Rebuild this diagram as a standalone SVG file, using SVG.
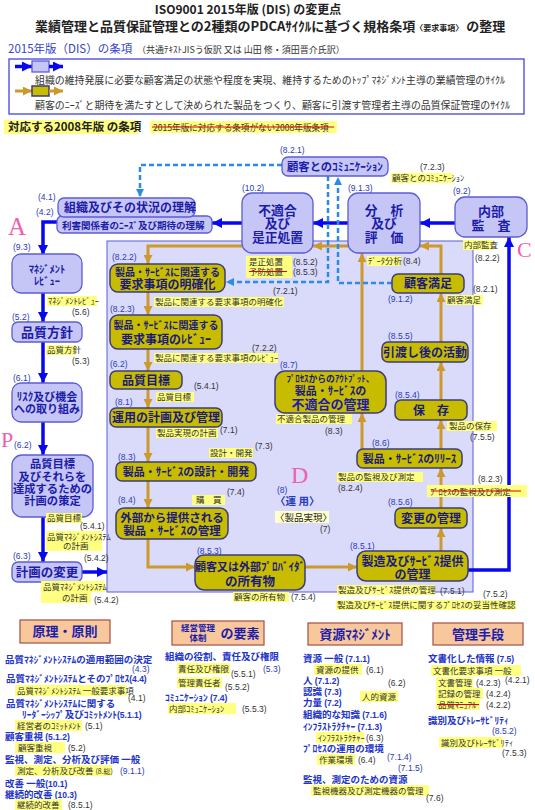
<svg xmlns="http://www.w3.org/2000/svg" width="535" height="810" viewBox="0 0 535 810">
<defs>
<style>
text{font-family:"Noto Sans CJK JP","Liberation Sans",sans-serif}
.n{font-family:"Liberation Sans","Noto Sans CJK JP",sans-serif;font-size:8.5px}
.nb{fill:#2a3ab8}
.ng{fill:#333}
.lv{fill:#c6c6f6;stroke:#5c5cd6;stroke-width:1.3}
.ol{fill:#c8bc00;stroke:#3c3c78;stroke-width:1.5}
.bt{font-weight:bold;fill:#1c1ca8;text-anchor:middle}
.ot{font-weight:bold;fill:#1a1a7a;text-anchor:middle}
.y{fill:#ffff80}
.l{font-size:8.5px;fill:#333}
.bl{stroke:#0808ee;stroke-width:3.5;fill:none}
.gd{stroke:#cc9a2c;stroke-width:3;fill:none}
.ds{stroke:#2a8ce6;stroke-width:2.5;stroke-dasharray:5 3;fill:none}
.rs{stroke:#e00000;stroke-width:1.2}
.pk{font-family:"Liberation Serif",serif;fill:#f060b0}
.hd{fill:#f8c89c;stroke:#a85a50;stroke-width:1.3}
.lo{font-weight:bold;fill:#2233c8;font-size:9.5px}
</style>
<marker id="ab" viewBox="0 0 10 10" refX="10" refY="5" markerWidth="10" markerHeight="10" markerUnits="userSpaceOnUse" orient="auto"><path d="M0,0L10,5L0,10z" fill="#0808ee"/></marker>
<marker id="ag" viewBox="0 0 10 10" refX="10" refY="5" markerWidth="9" markerHeight="9" markerUnits="userSpaceOnUse" orient="auto"><path d="M0,0L10,5L0,10z" fill="#cc9a2c"/></marker>
<marker id="ad" viewBox="0 0 10 10" refX="10" refY="5" markerWidth="8" markerHeight="8" markerUnits="userSpaceOnUse" orient="auto"><path d="M0,0L10,5L0,10z" fill="#2a8ce6"/></marker>
</defs>
<rect width="535" height="810" fill="#fff"/>

<g id="header">
<text x="248" y="14" font-size="12" font-weight="bold" fill="#222" text-anchor="middle">ISO9001 2015年版 (DIS) の変更点</text>
<text x="35" y="31" font-size="13" font-weight="bold" fill="#222">業績管理と品質保証管理との2種類のPDCAｻｲｸﾙに基づく規格条項<tspan font-size="8">〈要求事項〉</tspan> の整理</text>
<text x="8" y="53" font-size="11.5" fill="#3344cc">2015年版（DIS）の条項</text>
<text x="137" y="53" font-size="9" fill="#333">（共通ﾃｷｽﾄJISう仮訳 又は 山田 修・須田晋介氏訳）</text>
</g>

<g id="legend">
<rect x="9" y="59" width="515" height="55" fill="#fff" stroke="#4444dd" stroke-width="1.3"/>
<line x1="15" y1="66.5" x2="32" y2="66.5" class="bl" stroke-width="3" marker-end="url(#ab)"/>
<rect x="32" y="61" width="17" height="11" class="lv"/>
<line x1="49" y1="66.5" x2="63" y2="66.5" class="bl" stroke-width="3" marker-end="url(#ab)"/>
<text x="35" y="84" font-size="10" fill="#333" textLength="470" lengthAdjust="spacingAndGlyphs">組織の維持発展に必要な顧客満足の状態や程度を実現、維持するためのﾄｯﾌﾟﾏﾈｼﾞﾒﾝﾄ主導の業績管理のｻｲｸﾙ</text>
<line x1="15" y1="91" x2="32" y2="91" class="gd" marker-end="url(#ag)"/>
<rect x="32" y="86" width="17" height="10" class="ol"/>
<line x1="49" y1="91" x2="63" y2="91" class="gd" marker-end="url(#ag)"/>
<text x="35" y="109" font-size="10" fill="#333" textLength="475" lengthAdjust="spacingAndGlyphs">顧客のﾆｰｽﾞと期待を満たすとして決められた製品をつくり、顧客に引渡す管理者主導の品質保証管理のｻｲｸﾙ</text>
</g>

<g id="legend2008">
<rect x="4" y="120" width="134" height="14" class="y"/>
<text x="8" y="131" font-size="11.5" font-weight="bold" fill="#222">対応する2008年版 の条項</text>
<rect x="150" y="121" width="187" height="12" class="y"/>
<text x="153" y="130.5" font-size="8.6" fill="#333">2015年版に対応する条項がない2008年版条項</text>
<line x1="152" y1="127" x2="334" y2="127" class="rs"/>
</g>

<rect id="panel" x="107" y="241" width="366" height="351" fill="#dadafb" stroke="#5c5cdc" stroke-width="1"/>

<g id="connectors">
<path d="M58,222H43V255" class="bl" marker-end="url(#ab)"/>
<path d="M43,293V322" class="bl" marker-end="url(#ab)"/>
<path d="M43,342V383" class="bl" marker-end="url(#ab)"/>
<path d="M43,422V455" class="bl" marker-end="url(#ab)"/>
<path d="M43,517V562" class="bl" marker-end="url(#ab)"/>
<path d="M82,572H107" class="bl" marker-end="url(#ab)"/>
<path d="M348,223H313" class="bl" marker-end="url(#ab)"/>
<path d="M242,223H212" class="bl" marker-end="url(#ab)"/>
<path d="M455,223H420" class="bl" marker-end="url(#ab)"/>
<path d="M468,570H509V237" class="bl" marker-end="url(#ab)"/>

<path d="M348,246H313" class="gd" marker-end="url(#ag)"/>
<path d="M242,246H148V264" class="gd" marker-end="url(#ag)"/>
<path d="M148,292V315" class="gd" marker-end="url(#ag)"/>
<path d="M148,349V371" class="gd" marker-end="url(#ag)"/>
<path d="M148,389V408" class="gd" marker-end="url(#ag)"/>
<path d="M148,427V462" class="gd" marker-end="url(#ag)"/>
<path d="M148,481V508" class="gd" marker-end="url(#ag)"/>
<path d="M148,539V567H195" class="gd" marker-end="url(#ag)"/>
<path d="M305,567H357" class="gd" marker-end="url(#ag)"/>
<path d="M441,551V528" class="gd" marker-end="url(#ag)"/>
<path d="M441,508V468" class="gd" marker-end="url(#ag)"/>
<path d="M441,449V420" class="gd" marker-end="url(#ag)"/>
<path d="M441,400V362" class="gd" marker-end="url(#ag)"/>
<path d="M441,342V293" class="gd" marker-end="url(#ag)"/>
<path d="M441,274V246H420" class="gd" marker-end="url(#ag)"/>
<path d="M362,449V413" class="gd" marker-end="url(#ag)"/>
<path d="M362,371V253" class="gd" marker-end="url(#ag)"/>

<path d="M282,165H140V197" class="ds" marker-end="url(#ad)"/>
<path d="M328,176V282H226" class="ds" marker-end="url(#ad)"/>
<path d="M392,283H338V177" class="ds" marker-end="url(#ad)"/>
</g>

<g id="n-context">
<rect x="57" y="216" width="155" height="17" rx="5" class="lv"/>
<text x="62" y="229" font-size="9.5" font-weight="bold" fill="#1c1ca8">利害関係者のﾆｰｽﾞ及び期待の理解</text>
<rect x="58" y="198" width="137" height="19" rx="6" class="lv"/>
<text x="64" y="212" font-size="12" font-weight="bold" fill="#1c1ca8">組織及びその状況の理解</text>
</g>
<g id="n-comm"><rect x="282" y="157" width="106" height="19" rx="6" class="lv"/><text x="335" y="170.5" font-size="11.3" class="bt">顧客とのｺﾐｭﾆｹｰｼｮﾝ</text></g>
<g id="n-ncr"><rect x="242" y="193" width="71" height="60" rx="10" class="lv"/><text class="bt" font-size="12.8"><tspan x="277.5" y="214.5">不適合</tspan><tspan x="277.5" y="228">及び</tspan><tspan x="277.5" y="241.5">是正処置</tspan></text></g>
<g id="n-analysis"><rect x="348" y="193" width="72" height="60" rx="10" class="lv"/><text class="bt" font-size="12.8"><tspan x="384" y="214.5">分　析</tspan><tspan x="384" y="228">及び</tspan><tspan x="384" y="241.5">評　価</tspan></text></g>
<g id="n-audit"><rect x="455" y="197" width="72" height="40" rx="10" class="lv"/><text class="bt" font-size="13"><tspan x="491" y="216">内部</tspan><tspan x="491" y="230">監　査</tspan></text></g>
<g id="n-mr"><rect x="12" y="254" width="70" height="39" rx="9" class="lv"/><text class="bt" font-size="10.5"><tspan x="47" y="273">ﾏﾈｼﾞﾒﾝﾄ</tspan><tspan x="47" y="285">ﾚﾋﾞｭｰ</tspan></text></g>
<g id="n-policy"><rect x="12" y="322" width="70" height="20" rx="6" class="lv"/><text x="47" y="337" font-size="13" class="bt">品質方針</text></g>
<g id="n-risk"><rect x="12" y="383" width="70" height="39" rx="9" class="lv"/><text class="bt" font-size="11"><tspan x="47" y="401">ﾘｽｸ及び機会</tspan><tspan x="47" y="413">への取り組み</tspan></text></g>
<g id="n-objplan"><rect x="12" y="455" width="81" height="62" rx="10" class="lv"/><text class="bt" font-size="11.3"><tspan x="52.5" y="468">品質目標</tspan><tspan x="52.5" y="480.5">及びそれらを</tspan><tspan x="52.5" y="492.5">達成するための</tspan><tspan x="52.5" y="504.5">計画の策定</tspan></text></g>
<g id="n-change"><rect x="12" y="562" width="70" height="20" rx="6" class="lv"/><text x="47" y="577" font-size="12.5" class="bt">計画の変更</text></g>

<g id="n-reqdet"><rect x="110" y="264" width="115" height="28" rx="8" class="ol"/><text class="ot"><tspan x="167.5" y="276" font-size="10">製品・ｻｰﾋﾞｽに関連する</tspan><tspan x="167.5" y="289" font-size="12">要求事項の明確化</tspan></text></g>
<g id="n-reqrev"><rect x="110" y="315" width="112" height="34" rx="8" class="ol"/><text class="ot"><tspan x="166" y="329" font-size="10">製品・ｻｰﾋﾞｽに関連する</tspan><tspan x="166" y="344" font-size="12">要求事項のﾚﾋﾞｭｰ</tspan></text></g>
<g id="n-qobj"><rect x="110" y="371" width="72" height="18" rx="6" class="ol"/><text x="146" y="385" font-size="12" class="ot">品質目標</text></g>
<g id="n-opplan"><rect x="110" y="408" width="112" height="19" rx="6" class="ol"/><text x="166" y="422" font-size="12" class="ot">運用の計画及び管理</text></g>
<g id="n-design"><rect x="116" y="462" width="140" height="19" rx="6" class="ol"/><text x="186" y="476" font-size="11" class="ot">製品・ｻｰﾋﾞｽの設計・開発</text></g>
<g id="n-ext"><rect x="116" y="508" width="112" height="31" rx="8" class="ol"/><text class="ot" font-size="11.5"><tspan x="172" y="522">外部から提供される</tspan><tspan x="172" y="535">製品・ｻｰﾋﾞｽの管理</tspan></text></g>
<g id="n-custprop"><rect x="195" y="555" width="110" height="35" rx="9" class="ol"/><text class="ot"><tspan x="250" y="571" font-size="11">顧客又は外部ﾌﾟﾛﾊﾞｲﾀﾞ</tspan><tspan x="250" y="586" font-size="12.5">の所有物</tspan></text></g>
<g id="n-prod"><rect x="357" y="551" width="111" height="30" rx="9" class="ol"/><text class="ot" font-size="12"><tspan x="412.5" y="566">製造及びｻｰﾋﾞｽ提供</tspan><tspan x="412.5" y="579">の管理</tspan></text></g>
<g id="n-chg"><rect x="395" y="508" width="72" height="20" rx="6" class="ol"/><text x="431" y="522.5" font-size="12" class="ot">変更の管理</text></g>
<g id="n-release"><rect x="357" y="449" width="105" height="19" rx="6" class="ol"/><text x="409.5" y="463" font-size="11" class="ot">製品・ｻｰﾋﾞｽのﾘﾘｰｽ</text></g>
<g id="n-pres"><rect x="395" y="400" width="72" height="20" rx="6" class="ol"/><text x="431" y="414.5" font-size="12" class="ot">保　存</text></g>
<g id="n-post"><rect x="382" y="342" width="86" height="20" rx="6" class="ol"/><text x="425" y="356.5" font-size="12" class="ot">引渡し後の活動</text></g>
<g id="n-csat"><rect x="392" y="274" width="72" height="19" rx="6" class="ol"/><text x="428" y="288" font-size="12" class="ot">顧客満足</text></g>
<g id="n-nc"><rect x="275" y="371" width="111" height="42" rx="10" class="ol"/><text class="ot"><tspan x="330.5" y="382" font-size="8.8">ﾌﾟﾛｾｽからのｱｳﾄﾌﾟｯﾄ、</tspan><tspan x="330.5" y="395" font-size="11">製品・ｻｰﾋﾞｽの</tspan><tspan x="330.5" y="409" font-size="13" fill="#1c1ca8">不適合の管理</tspan></text></g>

<g id="numbers">
<text class="n nb" x="38" y="200">(4.1)</text>
<text class="n nb" x="36" y="215">(4.2)</text>
<text class="n nb" x="13" y="250">(9.3)</text>
<text class="n nb" x="12" y="320">(5.2)</text>
<text class="n nb" x="13" y="381">(6.1)</text>
<text class="n nb" x="14" y="448">(6.2)</text>
<text class="n nb" x="13" y="559">(6.3)</text>
<text class="n nb" x="112" y="260">(8.2.2)</text>
<text class="n nb" x="110" y="312">(8.2.3)</text>
<text class="n nb" x="110" y="367">(6.2)</text>
<text class="n nb" x="115" y="405">(8.1)</text>
<text class="n nb" x="118" y="460">(8.3)</text>
<text class="n nb" x="118" y="503">(8.4)</text>
<text class="n nb" x="197" y="554">(8.5.3)</text>
<text class="n nb" x="350" y="549">(8.5.1)</text>
<text class="n nb" x="388" y="505">(8.5.6)</text>
<text class="n nb" x="372" y="446">(8.6)</text>
<text class="n nb" x="395" y="398">(8.5.4)</text>
<text class="n nb" x="388" y="339">(8.5.5)</text>
<text class="n nb" x="388" y="302">(9.1.2)</text>
<text class="n nb" x="280" y="368">(8.7)</text>
<text class="n nb" x="280" y="153">(8.2.1)</text>
<text class="n nb" x="242" y="191">(10.2)</text>
<text class="n nb" x="348" y="191">(9.1.3)</text>
<text class="n nb" x="453" y="194">(9.2)</text>
</g>

<g id="labels">
<rect class="y" x="47" y="296" width="50" height="10"/><text class="l" x="48" y="304" font-size="7.8">ﾏﾈｼﾞﾒﾝﾄﾚﾋﾞｭｰ</text>
<text class="n ng" x="72" y="315">(5.6)</text>
<rect class="y" x="46" y="345" width="30" height="10"/><text class="l" x="47" y="353" font-size="7.5">品質方針</text>
<text class="n ng" x="72" y="364">(5.3)</text>
<rect class="y" x="46" y="513" width="36" height="10"/><text class="l" x="47" y="521" font-size="8">品質目標</text>
<text class="n ng" x="80" y="529">(5.4.1)</text>
<rect class="y" x="46" y="531" width="56" height="20"/><text class="l" x="47" y="540" font-size="7.5">品質ﾏﾈｼﾞﾒﾝﾄｼｽﾃﾑ</text><text class="l" x="63" y="549" font-size="7.5">の計画</text>
<text class="n ng" x="84" y="561">(5.4.2)</text>
<rect class="y" x="41" y="581" width="64" height="11"/><rect class="y" x="41" y="592" width="50" height="11"/><text class="l" x="43" y="590" font-size="7.5">品質ﾏﾈｼﾞﾒﾝﾄｼｽﾃﾑ</text><text class="l" x="62" y="601" font-size="7.5">の計画</text>
<text class="n ng" x="94" y="603">(5.4.2)</text>

<rect class="y" x="154" y="297" width="130" height="10"/><text class="l" x="155" y="305">製品に関連する要求事項の明確化</text>
<text class="n ng" x="273" y="294">(7.2.1)</text>
<rect class="y" x="154" y="353" width="124" height="10"/><text class="l" x="155" y="361">製品に関連する要求事項のﾚﾋﾞｭｰ</text>
<text class="n ng" x="252" y="351">(7.2.2)</text>
<rect class="y" x="156" y="392" width="38" height="10"/><text class="l" x="157" y="400">品質目標</text>
<text class="n ng" x="194" y="389">(5.4.1)</text>
<rect class="y" x="156" y="428" width="62" height="10"/><text class="l" x="157" y="436">製品実現の計画</text>
<text class="n ng" x="220" y="433">(7.1)</text>
<rect class="y" x="209" y="448" width="44" height="10"/><text class="l" x="210" y="456">設計・開発</text>
<text class="n ng" x="255" y="449">(7.3)</text>
<rect class="y" x="192" y="495" width="33" height="10"/><text class="l" x="196" y="503">購　買</text>
<text class="n ng" x="227" y="495">(7.4)</text>
<rect class="y" x="233" y="592" width="56" height="10"/><text class="l" x="234" y="600">顧客の所有物</text>
<text class="n ng" x="291" y="600">(7.5.4)</text>
<rect class="y" x="337" y="585" width="98" height="10"/><text class="l" x="338" y="593">製造及びｻｰﾋﾞｽ提供の管理</text>
<text class="n ng" x="440" y="594">(7.5.1)</text>
<text class="n ng" x="483" y="597">(7.5.2)</text>
<rect class="y" x="336" y="600" width="180" height="10"/><text class="l" x="337" y="608">製造及びｻｰﾋﾞｽ提供に関するﾌﾟﾛｾｽの妥当性確認</text>

<rect class="y" x="246" y="256" width="46" height="22"/>
<text class="l" x="249" y="264.5" font-size="9">是正処置</text>
<text class="l" x="249" y="275" font-size="9">予防処置</text>
<line x1="249" y1="271.5" x2="287" y2="271.5" class="rs"/>
<text class="n ng" x="293" y="264.5">(8.5.2)</text>
<text class="n ng" x="293" y="275">(8.5.3)</text>

<rect class="y" x="391" y="173" width="62" height="10"/><text class="l" x="392" y="181" font-size="7.6">顧客とのｺﾐｭﾆｹｰｼｮﾝ</text>
<text class="n ng" x="420" y="170">(7.2.3)</text>
<rect class="y" x="463" y="240" width="30" height="10"/><text class="l" x="464" y="248" font-size="7.5">内部監査</text>
<text class="n ng" x="475" y="261">(8.2.2)</text>
<rect class="y" x="367" y="256" width="34" height="10"/><text class="l" x="368" y="264" font-size="8">ﾃﾞｰﾀ分析</text>
<text class="n ng" x="403" y="264">(8.4)</text>
<text class="n ng" x="473" y="292">(8.2.1)</text>
<rect class="y" x="446" y="295" width="37" height="10"/><text class="l" x="447" y="303">顧客満足</text>
<rect class="y" x="276" y="414" width="76" height="10"/><text class="l" x="277" y="422">不適合製品の管理</text>
<text class="n ng" x="325" y="434">(8.3)</text>
<rect class="y" x="447" y="421" width="50" height="10"/><text class="l" x="449" y="429">製品の保存</text>
<text class="n ng" x="470" y="440">(7.5.5)</text>
<rect class="y" x="337" y="472" width="86" height="10"/><text class="l" x="338" y="480">製品の監視及び測定</text>
<text class="n ng" x="338" y="491">(8.2.4)</text>
<text class="n ng" x="478" y="482">(8.2.3)</text>
<rect class="y" x="427" y="485" width="100" height="12"/><text class="l" x="430" y="494.5" font-size="9.5">ﾌﾟﾛｾｽの監視及び測定</text>
<line x1="431" y1="491" x2="521" y2="491" class="rs"/>
</g>

<g id="center">
<text class="pk" x="8" y="235" font-size="25">A</text>
<text class="pk" x="1" y="447" font-size="22">P</text>
<text class="pk" x="291" y="483" font-size="24">D</text>
<text class="pk" x="517" y="257" font-size="22">C</text>
<text class="n nb" x="277" y="493">(8)</text>
<text x="275" y="505" font-size="10.5" font-weight="bold" fill="#2a3ab8">〈運 用〉</text>
<rect x="275" y="511" width="54" height="12" fill="#ffffcc"/>
<text x="275" y="520.5" font-size="9.5" fill="#222">〈製品実現〉</text>
<text class="n ng" x="320" y="532">(7)</text>
</g>

<g id="h-principle"><rect x="20" y="620" width="90" height="23" class="hd"/><text x="65" y="636" font-size="13" class="bt" fill="#2233c8">原理・原則</text></g>
<g id="h-system"><rect x="172" y="621" width="92" height="24" class="hd"/><text class="bt" font-size="8.5"><tspan x="198" y="631">経営管理</tspan><tspan x="198" y="641">体制</tspan></text><text x="240" y="638" font-size="13" class="bt">の要素</text></g>
<g id="h-resource"><rect x="308" y="623" width="94" height="22" class="hd"/><text x="355" y="638.5" font-size="13" class="bt">資源ﾏﾈｼﾞﾒﾝﾄ</text></g>
<g id="h-means"><rect x="433" y="623" width="90" height="22" class="hd"/><text x="478" y="638.5" font-size="13" class="bt">管理手段</text></g>

<g id="list1">
<text class="lo" x="5" y="663" font-size="8.8">品質ﾏﾈｼﾞﾒﾝﾄｼｽﾃﾑの適用範囲の決定</text>
<text class="n nb" x="132" y="672">(4.3)</text>
<text class="lo" x="6" y="682">品質ﾏﾈｼﾞﾒﾝﾄｼｽﾃﾑとそのﾌﾟﾛｾｽ<tspan class="n" font-weight="bold">(4.4)</tspan></text>
<rect class="y" x="15" y="685" width="112" height="11"/><text class="l" x="17" y="693.5" font-size="8.2">品質ﾏﾈｼﾞﾒﾝﾄｼｽﾃﾑ 一般要求事項</text>
<text class="n ng" x="128" y="701">(4.1)</text>
<text class="lo" x="6" y="707" font-size="9.8">品質ﾏﾈｼﾞﾒﾝﾄｼｽﾃﾑに関する</text>
<text class="lo" x="22" y="718" font-size="9">ﾘｰﾀﾞｰｼｯﾌﾟ及びｺﾐｯﾄﾒﾝﾄ<tspan class="n" font-weight="bold">(5.1.1)</tspan></text>
<rect class="y" x="15" y="720" width="67" height="11"/><text class="l" x="17" y="728.5" font-size="8">経営者のｺﾐｯﾄﾒﾝﾄ</text>
<text class="n ng" x="85" y="729">(5.1)</text>
<text class="lo" x="5" y="740">顧客重視 <tspan class="n" font-weight="bold">(5.1.2)</tspan></text>
<rect class="y" x="15" y="742" width="50" height="11"/><text class="l" x="18" y="750.5">顧客重視</text>
<text class="n ng" x="68" y="751">(5.2)</text>
<text class="lo" x="5" y="763">監視、測定、分析及び評価 一般</text>
<rect class="y" x="15" y="765" width="97" height="11"/><text class="l" x="17" y="773.5">測定、分析及び改善 <tspan font-size="7">(8.総)</tspan></text>
<text class="n nb" x="120" y="774">(9.1.1)</text>
<text class="lo" x="5" y="787">改善 一般<tspan class="n" font-weight="bold">(10.1)</tspan></text>
<text class="lo" x="5" y="798">継続的改善 <tspan class="n" font-weight="bold">(10.3)</tspan></text>
<rect class="y" x="15" y="799" width="47" height="11"/><text class="l" x="17" y="807.5">継続的改善</text>
<text class="n ng" x="68" y="808">(8.5.1)</text>
</g>

<g id="list2">
<text class="lo" x="165" y="660" font-size="9.7">組織の役割、責任及び権限</text>
<rect class="y" x="177" y="663" width="53" height="11"/><text class="l" x="178" y="671.5">責任及び権限</text>
<text class="n ng" x="231" y="677">(5.5.1)</text>
<text class="n nb" x="263" y="672">(5.3)</text>
<rect class="y" x="177" y="677" width="45" height="11"/><text class="l" x="178" y="685.5">管理責任者</text>
<text class="n ng" x="225" y="690">(5.5.2)</text>
<text class="lo" x="165" y="701" font-size="9">ｺﾐｭﾆｹｰｼｮﾝ <tspan class="n" font-weight="bold">(7.4)</tspan></text>
<rect class="y" x="168" y="703" width="68" height="11"/><text class="l" x="169" y="711.5" font-size="8">内部ｺﾐｭﾆｹｰｼｮﾝ</text>
<text class="n ng" x="242" y="712">(5.5.3)</text>
</g>

<g id="list3">
<text class="lo" x="303" y="662">資源 一般 <tspan class="n" font-weight="bold">(7.1.1)</tspan></text>
<rect class="y" x="314" y="664" width="48" height="11"/><text class="l" x="316" y="672.5">資源の提供</text>
<text class="n ng" x="366" y="673">(6.1)</text>
<text class="lo" x="303" y="684">人 <tspan class="n" font-weight="bold">(7.1.2)</tspan></text>
<text class="n ng" x="388" y="686">(6.2)</text>
<text class="lo" x="303" y="695">認識 <tspan class="n" font-weight="bold">(7.3)</tspan></text>
<rect class="y" x="360" y="691" width="38" height="11"/><text class="l" x="362" y="699.5">人的資源</text>
<text class="lo" x="303" y="706">力量 <tspan class="n" font-weight="bold">(7.2)</tspan></text>
<text class="lo" x="303" y="718">組織的な知識 <tspan class="n" font-weight="bold">(7.1.6)</tspan></text>
<text class="lo" x="303" y="730" font-size="8.8">ｲﾝﾌﾗｽﾄﾗｸﾁｬｰ <tspan class="n" font-weight="bold">(7.1.3)</tspan></text>
<rect class="y" x="316" y="732" width="48" height="11"/><text class="l" x="318" y="740.5" font-size="8">ｲﾝﾌﾗｽﾄﾗｸﾁｬｰ</text>
<text class="n ng" x="366" y="741">(6.3)</text>
<text class="lo" x="303" y="752">ﾌﾟﾛｾｽの運用の環境</text>
<text class="n nb" x="387" y="760">(7.1.4)</text>
<rect class="y" x="317" y="754" width="38" height="11"/><text class="l" x="319" y="762.5">作業環境</text>
<text class="n ng" x="358" y="763">(6.4)</text>
<text class="n nb" x="398" y="771">(7.1.5)</text>
<text class="lo" x="303" y="783">監視、測定のための資源</text>
<rect class="y" x="311" y="785" width="118" height="11"/><text class="l" x="313" y="793.5">監視機器及び測定機器の管理</text>
<text class="n ng" x="426" y="801">(7.6)</text>
</g>

<g id="list4">
<text class="lo" x="428" y="662">文書化した情報 <tspan class="n" font-weight="bold">(7.5)</tspan></text>
<rect class="y" x="431" y="665" width="90" height="11"/><text class="l" x="433" y="673.5">文書化要求事項 一般</text>
<text class="n ng" x="505" y="683">(4.2.1)</text>
<rect class="y" x="436" y="677" width="37" height="11"/><text class="l" x="438" y="685.5">文書管理</text>
<text class="n ng" x="476" y="686">(4.2.3)</text>
<rect class="y" x="436" y="688" width="47" height="11"/><text class="l" x="438" y="696.5">記録の管理</text>
<text class="n ng" x="486" y="697">(4.2.4)</text>
<rect class="y" x="436" y="699" width="44" height="11"/><text class="l" x="438" y="707.5">品質ﾏﾆｭｱﾙ</text>
<line x1="437" y1="704.5" x2="479" y2="704.5" class="rs"/>
<text class="n ng" x="486" y="708">(4.2.2)</text>
<text class="lo" x="428" y="724">識別及びﾄﾚｰｻﾋﾞﾘﾃｨ</text>
<text class="n nb" x="492" y="734">(8.5.2)</text>
<rect class="y" x="439" y="737" width="64" height="11"/><text class="l" x="441" y="745.5">識別及びﾄﾚｰｻﾋﾞﾘﾃｨ</text>
<text class="n ng" x="502" y="756">(7.5.3)</text>
</g>
</svg>
